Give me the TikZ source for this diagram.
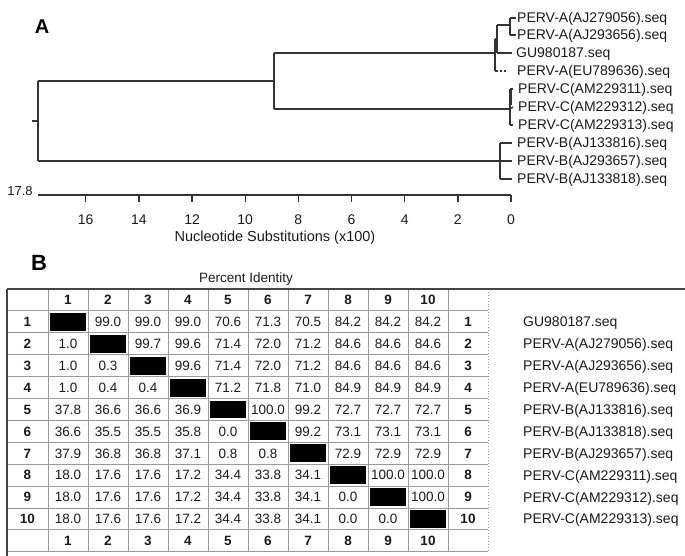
\documentclass[tikz,border=0pt]{standalone}
\usepackage{fontspec}
\setmainfont{Liberation Sans}
\definecolor{treecol}{HTML}{333333}
\definecolor{gridcol}{HTML}{9A9A9A}
\definecolor{bordercol}{HTML}{444444}
\definecolor{txtcol}{HTML}{1A1A1A}
\begin{document}
\begin{tikzpicture}[x=1pt,y=-1pt,
  branch/.style={draw=treecol,line width=1.4pt},
  seqlab/.style={anchor=west,inner sep=0pt,text height=10pt,text depth=0pt,font=\fontsize{14}{16}\selectfont,text=txtcol},
  ticklab/.style={inner sep=0pt,text height=10pt,text depth=0pt,font=\fontsize{14}{16}\selectfont,text=txtcol},
  cellnum/.style={inner sep=0pt,text height=9.6pt,text depth=0pt,font=\fontsize{13.5}{15}\selectfont,text=txtcol},
  headnum/.style={inner sep=0pt,text height=9.6pt,text depth=0pt,font=\fontsize{13.5}{15}\selectfont\bfseries,text=txtcol},
  gridline/.style={draw=gridcol,line width=0.9pt},
  borderline/.style={draw=bordercol,line width=1.4pt},
  panel/.style={inner sep=0pt,font=\bfseries,text=black}
]
\useasboundingbox (0,0) rectangle (685,556);

% ---------------- Panel A: tree ----------------
\node[panel,font=\fontsize{20}{22}\selectfont\bfseries] (pA) at (42,27) {A};

\node[seqlab] (tA1) at (517,18) {PERV-A(AJ279056).seq};
\node[seqlab] (tA2) at (517,35) {PERV-A(AJ293656).seq};
\node[seqlab] (tGU) at (516,53) {GU980187.seq};
\node[seqlab] (tEU) at (517,71) {PERV-A(EU789636).seq};
\node[seqlab] (tC1) at (518,89) {PERV-C(AM229311).seq};
\node[seqlab] (tC2) at (518,107) {PERV-C(AM229312).seq};
\node[seqlab] (tC3) at (518,125) {PERV-C(AM229313).seq};
\node[seqlab] (tB1) at (517,143) {PERV-B(AJ133816).seq};
\node[seqlab] (tB2) at (517,161) {PERV-B(AJ293657).seq};
\node[seqlab] (tB3) at (517,179) {PERV-B(AJ133818).seq};

\coordinate (stub) at (32,121);
\coordinate (root) at (38,121);
\coordinate (rt) at (38,81);
\coordinate (rb) at (38,161);
\coordinate (n1) at (274,81);
\coordinate (n1t) at (274,53);
\coordinate (n1b) at (274,109);
% A cluster
\coordinate (nA) at (495,53);
\coordinate (nAt) at (495,39);
\coordinate (nAb) at (495,71);
\coordinate (nAi) at (497,39);
\coordinate (nA2t) at (497,25);
\coordinate (nA2b) at (497,53);
\coordinate (nA3) at (510,25);
\coordinate (nA3t) at (510,18);
\coordinate (nA3b) at (510,35);
% C cluster
\coordinate (nC) at (510,109);
\coordinate (nCt) at (510,89);
\coordinate (nCb) at (510,125);
% B cluster
\coordinate (nB) at (500,161);
\coordinate (nBt) at (500,143);
\coordinate (nBb) at (500,179);

\draw[branch] (stub) -- (root);
\draw[branch] (rt) -- (rb);
\draw[branch] (rt) -- (n1);
\draw[branch] (n1t) -- (n1b);
\draw[branch] (n1t) -- (nA);
\draw[branch] (n1b) -- (nC);
\draw[branch] (rb) -- (nB);

\draw[branch] (nAt) -- (nAb);
\draw[branch] (nAt) -- (nAi);
\draw[branch] (nA2t) -- (nA2b);
\draw[branch] (nA2t) -- (nA3);
\draw[branch] (nA3t) -- (nA3b);
\draw[branch] (nA3t) -- ([xshift=-1.5pt]tA1.west);
\draw[branch] (nA3b) -- ([xshift=-1.5pt]tA2.west);
\draw[branch] (nA2b) -- ([xshift=-4pt]tGU.west);
\draw[branch,dashed,dash pattern=on 2.5pt off 2pt] (nAb) -- ([xshift=-11pt]tEU.west);

\draw[branch] (nCt) -- (nCb);
\draw[branch,line width=2.2pt] ([xshift=0.6pt]nCt) -- ++(0,16);
\draw[branch] (nCt) -- ([xshift=-5pt]tC1.west);
\draw[branch] (nC) -- ([xshift=-5pt]tC2.west);
\draw[branch] (nCb) -- ([xshift=-5pt]tC3.west);

\draw[branch] (nBt) -- (nBb);
\draw[branch] (nBt) -- ([xshift=-5pt]tB1.west);
\draw[branch] (nB) -- ([xshift=-5pt]tB2.west);
\draw[branch] (nBb) -- ([xshift=-5pt]tB3.west);

% axis
\coordinate (ax0) at (38,195);
\coordinate (ax1) at (511,195);
\draw[branch] (ax0) -- (ax1);
\foreach \v in {0,2,...,16} {
  \coordinate (tk\v) at ({511-26.58*\v},195);
  \draw[branch] (tk\v) -- ++(0,7);
  \node[ticklab] (tl\v) at ({511-26.58*\v},219) {\v};
}
\node[ticklab,font=\fontsize{13}{15}\selectfont] (scale) at (20,191) {17.8};
\node[inner sep=0pt,text height=10.4pt,text depth=0pt,font=\fontsize{14.5}{17}\selectfont,text=txtcol] (axtitle) at (275,236) {Nucleotide Substitutions (x100)};

% ---------------- Panel B: matrix ----------------
\node[panel,font=\fontsize{22}{24}\selectfont\bfseries] (pB) at (39,263) {B};
\node[inner sep=0pt,text height=9.6pt,text depth=0pt,font=\fontsize{13.5}{15}\selectfont,text=txtcol] (pid) at (246,278) {Percent Identity};

% grid
\foreach \k in {1,...,12} {
  \draw[gridline] (7,{289+21.9*\k}) -- (488,{289+21.9*\k});
}
\foreach \j in {0,...,10} {
  \draw[gridline] ({48+40*\j},289) -- ({48+40*\j},{289+21.9*12});
}
\draw[draw=gridcol,line width=0.9pt,dotted] (488,289) -- (488,{289+21.9*12});
\draw[borderline] (7,289) -- (685,289);
\draw[borderline] (7,289) -- (7,556);

% header and footer numbers
\foreach \j in {1,...,10} {
  \node[headnum] (hd\j) at ({28+40*\j},{289+21.9*0.5}) {\j};
  \node[headnum] (ft\j) at ({28+40*\j},{289+21.9*11.5}) {\j};
}

% rows
\foreach \r/\vals/\name in {
  1/{X,99.0,99.0,99.0,70.6,71.3,70.5,84.2,84.2,84.2}/GU980187.seq,
  2/{1.0,X,99.7,99.6,71.4,72.0,71.2,84.6,84.6,84.6}/PERV-A(AJ279056).seq,
  3/{1.0,0.3,X,99.6,71.4,72.0,71.2,84.6,84.6,84.6}/PERV-A(AJ293656).seq,
  4/{1.0,0.4,0.4,X,71.2,71.8,71.0,84.9,84.9,84.9}/PERV-A(EU789636).seq,
  5/{37.8,36.6,36.6,36.9,X,100.0,99.2,72.7,72.7,72.7}/PERV-B(AJ133816).seq,
  6/{36.6,35.5,35.5,35.8,0.0,X,99.2,73.1,73.1,73.1}/PERV-B(AJ133818).seq,
  7/{37.9,36.8,36.8,37.1,0.8,0.8,X,72.9,72.9,72.9}/PERV-B(AJ293657).seq,
  8/{18.0,17.6,17.6,17.2,34.4,33.8,34.1,X,100.0,100.0}/PERV-C(AM229311).seq,
  9/{18.0,17.6,17.6,17.2,34.4,33.8,34.1,0.0,X,100.0}/PERV-C(AM229312).seq,
  10/{18.0,17.6,17.6,17.2,34.4,33.8,34.1,0.0,0.0,X}/PERV-C(AM229313).seq} {
  \node[headnum] (rl\r) at (27.5,{289+21.9*(\r+0.5)}) {\r};
  \node[headnum] (rr\r) at (468,{289+21.9*(\r+0.5)}) {\r};
  \node[seqlab] (nm\r) at (523,{289+21.9*(\r+0.5)}) {\name};
  \foreach \v [count=\c] in \vals {
    \ifnum\c=\r
      \fill[black] ({48+40*(\c-1)+2},{289+21.9*\r+2}) rectangle ({48+40*\c-2},{289+21.9*(\r+1)-2});
    \else
      \node[cellnum] (c\r-\c) at ({28+40*\c},{289+21.9*(\r+0.5)}) {\v};
    \fi
  }
}
\end{tikzpicture}
\end{document}
